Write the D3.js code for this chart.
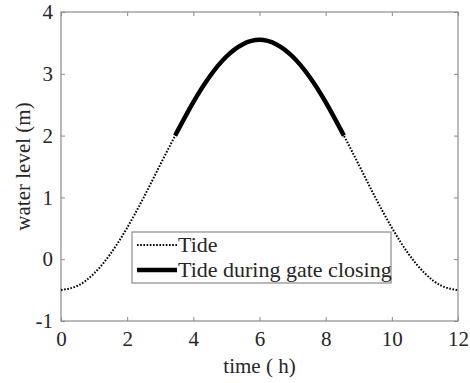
<!DOCTYPE html>
<html>
<head>
<meta charset="utf-8">
<script src="https://cdn.jsdelivr.net/npm/d3@7"></script>
<style>
  html, body { margin: 0; padding: 0; background: #fff; }
  svg { display: block; }
  svg text { font-family: 'Liberation Serif', serif !important; fill: #262626; }
</style>
</head>
<body>
<svg id="chart" width="470" height="383"></svg>
<script>
// ---- data ----
const tideTime  = [0, 0.5, 1, 1.5, 2, 2.5, 3, 3.5, 4, 4.5, 5, 5.5, 6, 6.5, 7, 7.5, 8, 8.5, 9, 9.5, 10, 10.5, 11, 11.5, 12];
const tideLevel = [-0.50, -0.43, -0.23, 0.09, 0.51, 1.00, 1.53, 2.05, 2.54, 2.96, 3.28, 3.48, 3.55, 3.48, 3.28, 2.96, 2.54, 2.05, 1.53, 1.00, 0.51, 0.09, -0.23, -0.43, -0.50];
const gateTime  = [3.45, 4, 4.5, 5, 5.5, 6, 6.5, 7, 7.5, 8, 8.55];
const gateLevel = [2.00, 2.54, 2.96, 3.28, 3.48, 3.55, 3.48, 3.28, 2.96, 2.54, 2.00];
const xTicks = [0, 2, 4, 6, 8, 10, 12];
const yTicks = [-1, 0, 1, 2, 3, 4];
const legendLabels = ["Tide", "Tide during gate closing"];
const xLabel = "time ( h)";
const yLabel = "water level (m)";

const svg = d3.select("#chart");
const L = 61, R = 458, T = 12, B = 321;
const x = d3.scaleLinear().domain([0, 12]).range([L, R]);
const y = d3.scaleLinear().domain([-1, 4]).range([B, T]);
const axisColor = "#8a8a8a";
const tickLen = 4;
const fmt = d => String(d);
const serif = "'Liberation Serif', serif";

// Axes box
svg.append("rect").attr("x", L).attr("y", T).attr("width", R - L).attr("height", B - T)
  .attr("fill", "none").attr("stroke", axisColor).attr("stroke-width", 1.2);

// x axis (bottom) with labels
const gx = svg.append("g").attr("transform", `translate(0,${B})`)
  .call(d3.axisBottom(x).tickValues(xTicks).tickSize(-tickLen).tickPadding(10).tickFormat(fmt));
gx.attr("font-family", serif).attr("font-size", 21);
gx.select(".domain").remove();
gx.selectAll(".tick line").attr("stroke", axisColor);
gx.selectAll(".tick text").style("font-family", serif).style("font-size", "21px").attr("fill", "#262626");

// x axis top ticks
const gxt = svg.append("g").attr("transform", `translate(0,${T})`)
  .call(d3.axisTop(x).tickValues(xTicks).tickSize(-tickLen).tickFormat(""));
gxt.select(".domain").remove();
gxt.selectAll(".tick line").attr("stroke", axisColor);

// y axis (left) with labels
const gy = svg.append("g").attr("transform", `translate(${L},0)`)
  .call(d3.axisLeft(y).tickValues(yTicks).tickSize(-tickLen).tickPadding(8).tickFormat(fmt));
gy.attr("font-family", serif).attr("font-size", 21);
gy.select(".domain").remove();
gy.selectAll(".tick line").attr("stroke", axisColor);
gy.selectAll(".tick text").style("font-family", serif).style("font-size", "21px").attr("fill", "#262626");

// y axis right ticks
const gyr = svg.append("g").attr("transform", `translate(${R},0)`)
  .call(d3.axisRight(y).tickValues(yTicks).tickSize(-tickLen).tickFormat(""));
gyr.select(".domain").remove();
gyr.selectAll(".tick line").attr("stroke", axisColor);

// Axis labels
svg.append("text").attr("x", (L + R) / 2).attr("y", 373).attr("text-anchor", "middle")
  .attr("font-size", 21).text(xLabel);
svg.append("text").attr("transform", `translate(30,${(T + B) / 2}) rotate(-90)`)
  .attr("text-anchor", "middle").attr("font-size", 21).text(yLabel);

// Lines
const line = d3.line().x(d => x(d[0])).y(d => y(d[1])).curve(d3.curveNatural);
const tideData = tideTime.map((t, i) => [t, tideLevel[i]]);
const gateData = gateTime.map((t, i) => [t, gateLevel[i]]);

svg.append("path").datum(tideData).attr("d", line)
  .attr("fill", "none").attr("stroke", "#000").attr("stroke-width", 2).attr("stroke-dasharray", "1.6,1.6");
svg.append("path").datum(gateData).attr("d", line)
  .attr("fill", "none").attr("stroke", "#000").attr("stroke-width", 4.5);

// Legend
const lg = svg.append("g");
lg.append("rect").attr("x", 132).attr("y", 232).attr("width", 259).attr("height", 51)
  .attr("fill", "#fff").attr("stroke", axisColor).attr("stroke-width", 1.2);
lg.append("line").attr("x1", 137).attr("x2", 177).attr("y1", 245).attr("y2", 245)
  .attr("stroke", "#000").attr("stroke-width", 2).attr("stroke-dasharray", "1.6,1.6");
lg.append("line").attr("x1", 137).attr("x2", 177).attr("y1", 270).attr("y2", 270)
  .attr("stroke", "#000").attr("stroke-width", 4.5);
lg.append("text").attr("x", 178).attr("y", 252).attr("font-size", 22).text(legendLabels[0]);
lg.append("text").attr("x", 178).attr("y", 277).attr("font-size", 22).text(legendLabels[1]);
</script>
</body>
</html>
